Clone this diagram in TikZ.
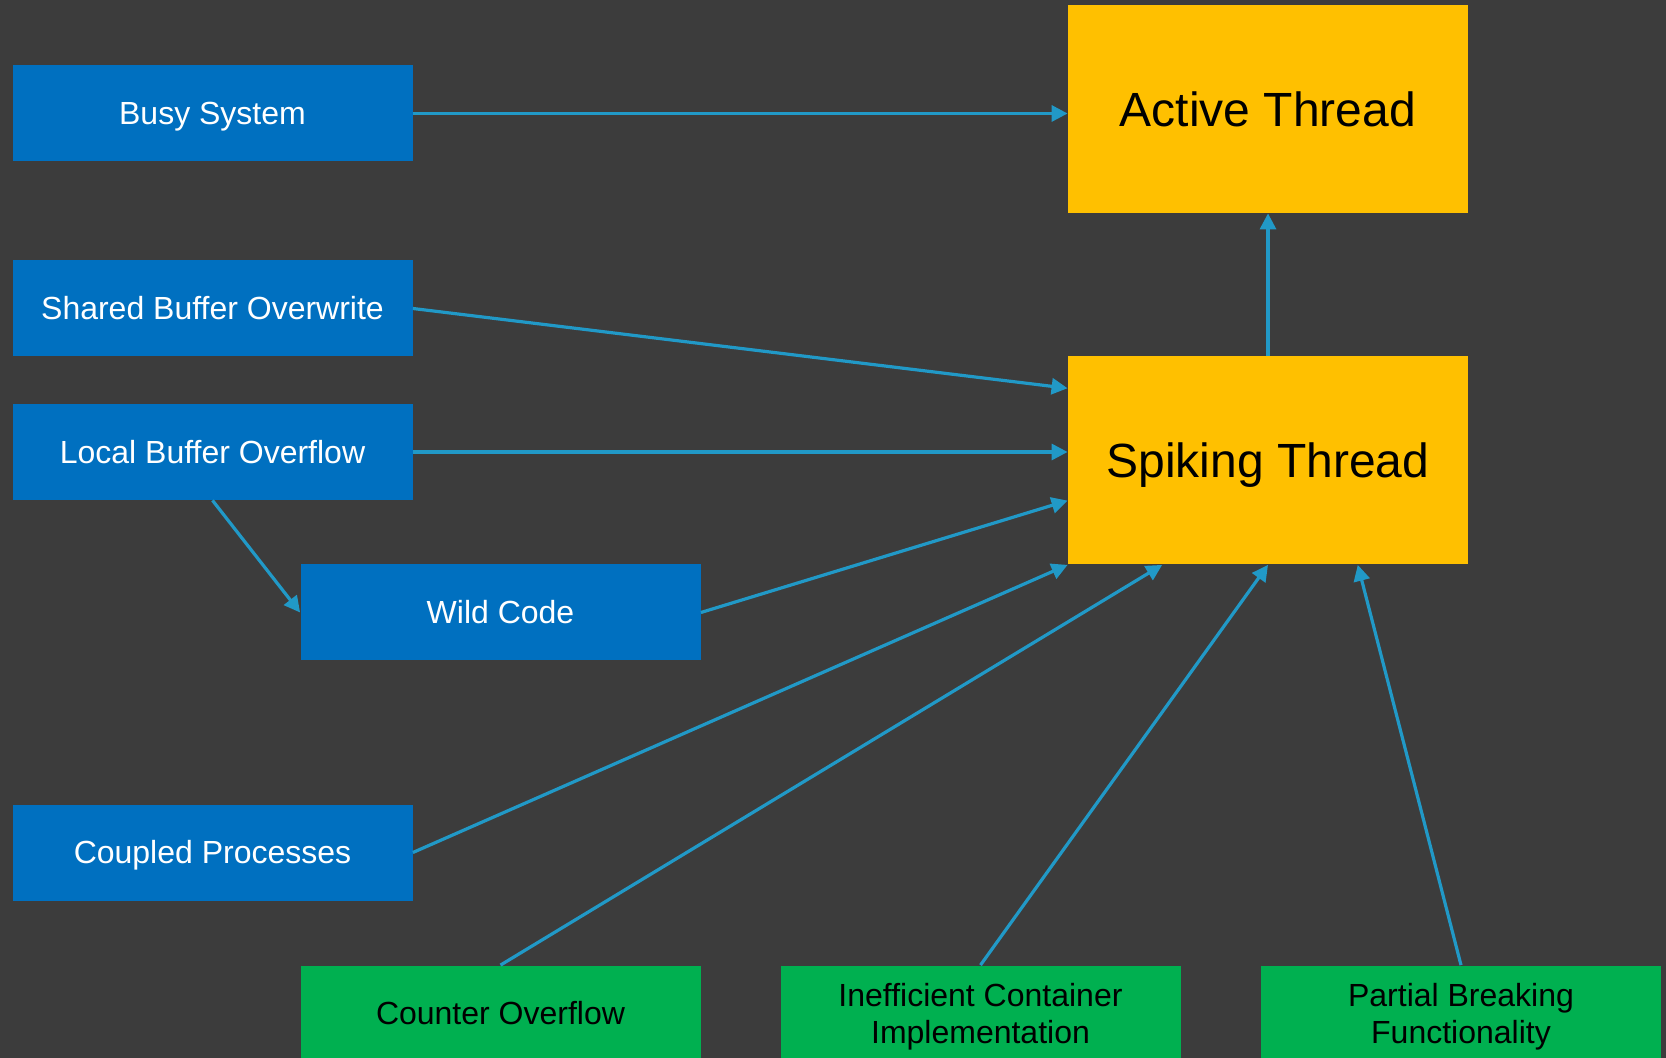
\documentclass[tikz,border=0pt]{standalone}
\usepackage{fontspec}
\setmainfont{Liberation Sans}
\usetikzlibrary{arrows.meta,calc}
\definecolor{bg}{RGB}{60,60,60}
\definecolor{bluebox}{RGB}{0,112,192}
\definecolor{yellowbox}{RGB}{255,192,0}
\definecolor{greenbox}{RGB}{0,176,80}
\definecolor{arrowc}{RGB}{33,153,199}
\newcommand{\firstlinestrut}{\rule{0pt}{14.9pt}}
\begin{document}
\begin{tikzpicture}[x=0.5pt,y=-0.5pt,
  base/.style={rectangle, inner sep=0pt, align=center, text height=15.46pt, text depth=4pt, font=\fontsize{16}{18.7}\selectfont},
  causebox/.style={base, fill=bluebox, text=white, minimum width=200pt, minimum height=48pt},
  greenb/.style={base, fill=greenbox, text=black, minimum width=200pt, minimum height=48pt},
  twoline/.style={text height=, text depth=},
  threadbox/.style={rectangle, inner sep=0pt, fill=yellowbox, text=black, minimum width=200pt, minimum height=104pt, text height=23.2pt, text depth=6pt, font=\fontsize{24}{28}\selectfont},
  conn/.style={draw=arrowc, line width=1.6pt, -{Triangle[length=8pt,width=8pt]}}
]
\useasboundingbox (0,0) rectangle (1666,1058);
\fill[bg] (0,0) rectangle (1666,1058);

\node[threadbox] (act) at (1268,109) {Active Thread};
\node[threadbox] (sp) at (1268,460.5) {Spiking Thread};

\node[causebox] (busy) at (212.5,113.5) {Busy System};
\node[causebox] (sbo) at (212.5,308.5) {Shared Buffer Overwrite};
\node[causebox] (lbo) at (212.5,452) {Local Buffer Overflow};
\node[causebox] (wild) at (500.5,612.5) {Wild Code};
\node[causebox] (coupled) at (212.5,852.5) {Coupled Processes};

\node[greenb] (counter) at (500.5,1013.5) {Counter Overflow};
\node[greenb, twoline] (ineff) at (980.5,1013.5) {\firstlinestrut Inefficient Container\\Implementation};
\node[greenb, twoline] (partial) at (1461,1013.5) {\firstlinestrut Partial Breaking\\Functionality};

\draw[conn] (busy.east) -- (busy.east -| act.west);
\draw[conn] (sbo.east) -- ($(sp.north west)!0.154!(sp.south west)$);
\draw[conn] (lbo.east) -- (lbo.east -| sp.west);
\draw[conn] (lbo.south) -- (wild.west);
\draw[conn] (wild.east) -- ($(sp.north west)!0.692!(sp.south west)$);
\draw[conn] (coupled.east) -- (sp.south west);
\draw[conn] (counter.north) -- ($(sp.south west)!0.236!(sp.south east)$);
\draw[conn] (ineff.north) -- (sp.south);
\draw[conn] (partial.north) -- ($(sp.south west)!0.724!(sp.south east)$);
\draw[conn] (sp.north) -- (act.south);
\end{tikzpicture}
\end{document}
